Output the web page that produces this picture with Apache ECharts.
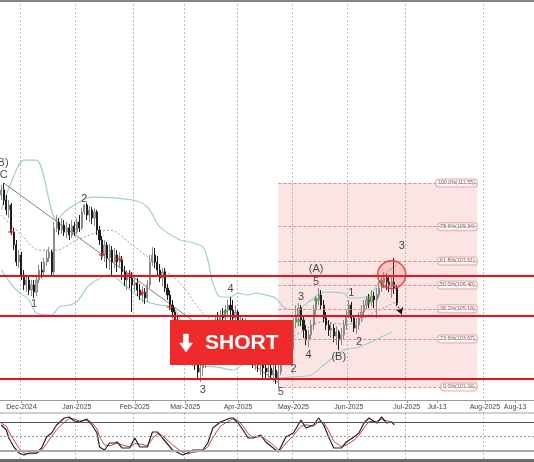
<!DOCTYPE html>
<html><head><meta charset="utf-8">
<script src="https://cdn.jsdelivr.net/npm/echarts@6/dist/echarts.min.js"></script>
<style>html,body{margin:0;padding:0;background:#fff}#c{width:534px;height:462px}</style>
</head><body><div id="c"></div>
<script>
// ---------- categories: trading days (weekdays) then future calendar days ----------
function buildDates(){
  const out=[];
  let d=new Date(Date.UTC(2024,10,20));
  const lastBar=Date.UTC(2025,5,27), end=Date.UTC(2025,7,20);
  while(d.getTime()<=end){
    const w=d.getUTCDay();
    if(d.getTime()>lastBar || (w!==0 && w!==6)) out.push(d.toISOString().slice(0,10));
    d=new Date(d.getTime()+86400000);
  }
  return out;
}
const categories = buildDates();

const tickDates  = ['2024-12-02','2025-01-01','2025-02-03','2025-03-03','2025-04-01','2025-05-01','2025-06-02','2025-07-01','2025-07-13','2025-08-01','2025-08-13'];
const tickLabels = ['Dec-2024','Jan-2025','Feb-2025','Mar-2025','Apr-2025','May-2025','Jun-2025','Jul-2025','Jul-13','Aug-2025','Aug-13'];
const gridDates  = ['2024-12-02','2025-01-01','2025-02-03','2025-03-03','2025-04-01','2025-05-01','2025-06-02','2025-07-01','2025-08-01'];

// ---------- candles [open, close, low, high] ----------
const ohlc = [
[110.94,111.20,110.69,111.45],[111.20,110.69,110.44,111.55],[110.69,110.19,109.93,110.94],[110.19,110.44,109.78,110.69],
[110.44,109.07,108.92,110.54],[109.07,108.42,108.16,109.28],[108.42,107.56,107.36,108.67],[107.56,107.91,107.25,108.16],
[107.91,106.90,106.65,108.06],[106.90,106.40,106.14,107.15],[106.40,106.65,106.04,106.90],[106.65,106.14,105.89,106.85],
[106.14,106.40,105.84,106.65],[106.40,106.04,105.74,106.65],[106.04,106.65,105.84,106.85],[106.65,107.15,106.50,107.41],
[107.15,107.05,106.75,107.56],[107.05,107.56,106.90,107.76],[107.56,107.76,107.36,108.16],[107.76,108.06,107.56,108.32],
[108.06,107.05,106.85,108.16],[107.05,109.28,106.90,109.58],[109.28,109.58,109.07,109.93],[109.58,109.17,108.92,109.78],
[109.17,109.43,108.97,109.78],[109.43,109.07,108.87,109.68],[109.07,109.28,108.77,109.58],[109.28,108.92,108.67,109.48],
[108.92,109.38,108.77,109.68],[109.38,109.07,108.87,109.58],[109.07,109.58,108.97,109.78],[109.58,109.28,109.07,109.93],
[109.28,110.09,109.17,110.29],[110.09,110.44,109.93,110.49],[110.44,109.93,109.68,110.54],[109.93,110.19,109.58,110.39],
[110.19,109.78,109.48,110.34],[109.78,110.09,109.38,110.29],[110.09,109.17,108.92,110.19],[109.17,108.67,108.42,109.38],
[108.67,107.91,107.66,108.87],[107.91,108.42,107.56,108.67],[108.42,107.76,107.25,108.57],[107.76,108.16,107.15,108.47],
[108.16,107.56,106.90,108.37],[107.56,107.91,107.25,108.27],[107.91,107.56,107.05,108.16],[107.56,107.66,107.25,108.06],
[107.66,107.05,106.65,107.86],[107.05,106.65,106.34,107.36],[106.65,106.85,106.14,107.15],[106.85,106.75,106.24,107.15],
[106.75,106.40,105.03,107.05],[106.40,106.50,106.04,106.85],[106.50,106.14,105.84,106.75],[106.14,105.89,105.64,106.45],
[105.89,106.04,105.54,106.34],[106.04,105.74,105.44,106.24],[105.74,106.40,105.54,106.65],[106.40,107.56,106.24,107.91],
[107.56,107.91,107.36,108.32],[107.91,107.56,107.25,108.27],[107.56,107.15,106.85,107.86],[107.15,106.75,106.55,107.46],
[106.75,107.05,106.34,107.25],[107.05,106.24,106.04,107.25],[106.24,105.89,105.64,106.45],[105.89,105.38,105.13,106.14],
[105.38,105.03,104.73,105.64],[105.03,104.63,104.42,105.23],[104.63,104.12,103.82,104.83],[104.12,103.62,103.36,104.37],
[103.62,103.87,103.21,104.22],[103.87,103.36,103.01,104.12],[103.36,103.11,102.71,103.72],[103.11,102.71,102.40,103.41],
[102.71,103.01,102.30,103.31],[103.01,102.35,102.10,103.21],[102.35,102.00,101.70,102.61],[102.00,102.20,101.50,102.51],
[102.20,102.61,101.80,102.86],[102.61,102.86,102.20,103.36],[102.86,103.36,102.61,103.62],[103.36,103.87,103.01,104.12],
[103.87,104.22,103.51,104.63],[104.22,104.63,103.87,104.88],[104.63,104.52,104.12,105.03],[104.52,104.88,104.22,105.13],
[104.88,104.73,104.37,105.23],[104.73,105.13,104.52,105.38],[105.13,105.38,104.73,105.64],[105.38,105.13,104.63,105.79],
[105.13,104.73,104.37,105.64],[104.73,105.03,104.12,105.38],[105.03,104.37,103.97,105.13],[104.37,104.52,104.12,104.88],
[104.52,104.12,103.87,104.73],[104.12,104.37,103.62,104.73],[104.37,103.62,103.11,104.63],[103.62,103.11,102.61,103.87],
[103.11,102.61,102.20,103.36],[102.61,102.86,102.10,103.11],[102.86,102.35,102.00,103.11],[102.35,102.61,101.85,102.86],
[102.61,102.20,101.70,103.01],[102.20,102.00,101.60,102.61],[102.00,102.20,101.70,102.51],[102.20,101.85,101.60,102.51],
[101.85,102.10,101.50,102.40],[102.10,101.70,101.40,102.35],[101.70,102.00,101.24,102.35],[102.00,102.86,101.85,103.11],
[102.86,103.36,102.61,103.72],[103.36,103.62,103.11,104.02],[103.62,103.01,102.71,103.87],[103.01,103.36,102.51,103.62],
[103.36,104.52,103.11,104.73],[104.52,104.88,104.22,105.38],[104.88,105.23,104.63,105.49],[105.23,104.63,104.32,105.38],
[104.63,104.12,103.72,104.88],[104.12,103.62,103.36,104.37],[103.62,103.87,103.26,104.12],[103.87,104.37,103.62,104.63],
[104.37,105.13,104.12,105.38],[105.13,105.64,104.88,105.84],[105.64,105.89,105.38,106.24],[105.89,105.38,105.13,106.14],
[105.38,104.73,104.52,105.64],[104.73,104.37,104.12,105.03],[104.37,104.12,103.82,104.63],[104.12,104.22,103.72,104.52],
[104.22,103.82,103.51,104.42],[103.82,104.02,103.36,104.32],[104.02,103.62,103.11,104.12],[103.62,103.87,103.36,104.22],
[103.87,104.37,103.62,104.63],[104.37,104.88,104.12,105.13],[104.88,105.38,104.73,105.64],[105.38,104.73,104.52,105.54],
[104.73,104.22,104.02,104.88],[104.22,104.37,103.92,104.73],[104.37,104.73,104.12,105.03],[104.73,105.03,104.52,105.38],
[105.03,105.38,104.73,105.64],[105.38,105.64,105.13,105.84],[105.64,105.54,105.23,105.94],[105.54,105.84,105.33,106.14],
[105.84,105.64,105.23,106.04],[105.64,105.89,104.73,106.24],[105.89,106.24,105.74,106.55],[106.24,106.55,106.04,106.85],
[106.55,106.75,106.24,107.05],[106.75,106.55,106.14,106.95],[106.55,106.34,106.04,106.85],[106.34,106.55,105.74,106.85],
[106.55,106.24,105.94,107.76],[106.24,105.49,105.33,106.40]
];

// ---------- Bollinger bands (read at sample bars) [barIndex, price] ----------
const bbUpper = [[0,110.2],[4,111.6],[9,112.71],[14,112.71],[22,109.68],[26,110.19],[36,110.84],[52,110.69],[58,110.34],[63,109.33],[71,108.67],[75,108.57],[80,108.32],[82,107.66],[84,106.50],[87,105.79],[91,105.79],[94,105.99],[98,105.89],[101,105.99],[105,105.89],[109,105.74],[112,105.28],[117,105.13],[123,105.64],[128,106.04],[136,105.99],[138,105.74],[145,105.79],[148,106.14],[152,106.90],[157,107.41]];
const bbMiddle = [[0,109.93],[8,108.92],[15,108.16],[22,108.16],[30,108.67],[43,109.17],[52,108.42],[63,107.31],[71,106.50],[80,104.98],[87,104.37],[95,104.02],[103,103.72],[111,103.51],[119,104.02],[127,104.52],[136,104.42],[142,104.52],[146,104.88],[154,105.38],[157,105.54]];
const bbLower = [[0,107.15],[6,106.14],[11,105.64],[14,104.98],[20,104.88],[23,105.28],[27,105.38],[30,105.54],[35,106.40],[43,106.90],[49,106.40],[56,105.64],[63,105.38],[68,105.28],[73,104.12],[79,102.35],[86,102.25],[92,102.10],[99,102.61],[105,102.20],[111,101.70],[116,101.75],[123,101.85],[128,102.35],[136,103.11],[142,103.26],[155,104.02]];

// ---------- Stochastic [barIndex, value] ----------
const stochK = [[0,74.5],[2,63.8],[3,46.8],[5,27.7],[7,14.9],[9,10.6],[11,14.9],[14,14.9],[16,25.5],[18,48.9],[20,57.5],[22,74.5],[25,89.4],[27,91.5],[29,83.0],[31,80.9],[34,87.2],[36,74.5],[38,57.5],[39,27.7],[41,21.3],[43,36.2],[45,36.2],[46,38.3],[48,25.5],[51,25.5],[53,46.8],[55,27.7],[58,27.7],[60,59.6],[62,59.6],[64,46.8],[68,21.3],[72,10.6],[74,14.9],[76,21.3],[80,21.3],[82,36.2],[84,68.1],[87,80.9],[91,89.4],[92,89.4],[94,78.7],[96,63.8],[98,46.8],[100,46.8],[103,53.2],[105,38.3],[108,25.5],[110,17.0],[111,27.7],[113,48.9],[116,57.5],[119,85.1],[121,68.1],[124,74.5],[126,89.4],[128,74.5],[130,48.9],[132,25.5],[135,25.5],[137,38.3],[140,48.9],[142,57.5],[144,78.7],[146,89.4],[149,78.7],[151,91.5],[153,78.7],[155,80.9],[156,74.5]];
const stochD = [[0,78],[2,72],[3,60],[5,42],[7,25],[9,15],[11,13],[14,14],[16,20],[18,35],[20,50],[22,65],[25,80],[27,88],[29,87],[31,83],[34,84],[36,80],[38,66],[39,50],[41,32],[43,30],[45,34],[46,36],[48,32],[51,28],[53,35],[55,34],[58,30],[60,45],[62,56],[64,52],[68,32],[72,16],[74,13],[76,16],[80,20],[82,28],[84,48],[87,72],[91,85],[92,88],[94,84],[96,72],[98,56],[100,48],[103,50],[105,44],[108,32],[110,22],[111,22],[113,36],[116,52],[119,72],[121,75],[124,72],[126,82],[128,80],[130,62],[132,40],[135,28],[137,32],[140,42],[142,52],[144,68],[146,82],[149,82],[151,86],[153,84],[155,80],[156,78]];
const stochLevels = [80, 50, 20];

// ---------- annotations ----------
const redLevels = [106.86, 104.83, 101.65];
const fibLevels = [111.55, 109.34, 107.61, 106.40, 105.19, 103.67, 101.24];
const fibNames  = ['100.0%(111.55)','78.6%(109.34)','61.8%(107.61)','50.0%(106.40)','38.2%(105.19)','23.6%(103.67)','0.0%(101.24)'];
const fibStart = 110, fibEnd = 189;
const trendLine = [[1,111.55],[110,101.45]];
const projArrow = [[157,105.49],[159,104.90]];
const circleMark = [[155,106.92]];
const waveLabels = [[0,112.56,'(B)'],[1,111.95,'C'],[13,105.44,'1'],[33,110.74,'2'],[80,101.09,'3'],[91,106.19,'4'],[111,100.99,'5'],[116,102.15,'2'],[119,105.79,'3'],[122,102.86,'4'],[125,107.20,'(A)'],[125,106.55,'5'],[134,102.76,'(B)'],[139,105.99,'1'],[142,103.51,'2'],[159,108.37,'3']];
const sellMarks = [[4,109.07],[40,107.91],[47,107.71],[51,106.95],[56,105.99],[67,105.28],[69,104.63]];
const buyMarks  = [[89,104.98],[118,104.52],[125,105.59],[146,105.64],[151,106.50]];

const FONT = '"Liberation Sans", Arial, sans-serif';
const tickIdx = new Set(tickDates.map(d => categories.indexOf(d)));
const gridIdx = new Set(gridDates.map(d => categories.indexOf(d)));
const labelMap = {}; tickDates.forEach((d,i)=>labelMap[d]=tickLabels[i]);

const chart = echarts.init(document.getElementById('c'));
const vSplit = {show:true, interval:(i)=>gridIdx.has(i), lineStyle:{color:'#bdbdbd', type:[2,2], width:1}};

chart.setOption({
  animation:false,
  grid:[{left:0,right:0,top:0,height:400},{left:0,right:0,top:413,height:47}],
  xAxis:[
    {type:'category', gridIndex:0, data:categories, boundaryGap:true,
     axisLine:{show:true, lineStyle:{color:'#9a9a9a'}},
     axisTick:{show:true, interval:(i)=>tickIdx.has(i), alignWithLabel:true, length:3, lineStyle:{color:'#999'}},
     axisLabel:{show:true, interval:(i)=>tickIdx.has(i), formatter:(v)=>labelMap[v]||'', fontSize:7, color:'#444', margin:4, fontFamily:FONT},
     splitLine:vSplit},
    {type:'category', gridIndex:1, data:categories, boundaryGap:true,
     axisLine:{show:false}, axisTick:{show:false}, axisLabel:{show:false}, splitLine:vSplit}
  ],
  yAxis:[
    {type:'value', gridIndex:0, min:100.585, max:120.797, show:false},
    {type:'value', gridIndex:1, min:0, max:100, show:false}
  ],
  series:[
    {type:'scatter', name:'fib', z:1, xAxisIndex:0, yAxisIndex:0, symbolSize:1,
     itemStyle:{color:'rgba(0,0,0,0)'},
     data: fibLevels.map((v,i)=>[fibEnd, v, fibNames[i]]),
     label:{show:true, position:'left', distance:0, formatter:(p)=>p.data[2], fontSize:5.3, color:'#444', fontFamily:FONT,
            backgroundColor:'#fff', borderColor:'#e39a9a', borderWidth:1, borderRadius:3, padding:[1,2,1,2]},
     markArea:{silent:true, itemStyle:{color:'rgba(236,130,130,0.22)'},
       data:[[{coord:[fibStart, fibLevels[6]]},{coord:[fibEnd, fibLevels[0]]}]]},
     markLine:{silent:true, symbol:'none', label:{show:false}, lineStyle:{color:'#e58a8a', type:[3,2], width:1},
       data: fibLevels.map(v=>[{coord:[fibStart,v]},{coord:[fibEnd,v]}])}
    },
    {type:'line', z:2, data:bbUpper, symbol:'none', smooth:0.3, lineStyle:{color:'#a3cfcf', width:1.2}},
    {type:'line', z:2, data:bbLower, symbol:'none', smooth:0.3, lineStyle:{color:'#a3cfcf', width:1.2}},
    {type:'line', z:2, data:bbMiddle, symbol:'none', smooth:0.3, lineStyle:{color:'#9a9a9a', width:1, type:[2,2]}},
    {type:'line', z:2, data:trendLine, symbol:'none', lineStyle:{color:'#808080', width:1}},
    {type:'candlestick', z:3, data:ohlc, barWidth:1.6,
     itemStyle:{color:'#b5b5b5', color0:'#1e1e1e', borderColor:'#8a8a8a', borderColor0:'#1e1e1e', borderWidth:1},
     markLine:{silent:true, symbol:'none', label:{show:false}, lineStyle:{color:'#e8131a', width:2, type:'solid'},
       data: redLevels.map(v=>({yAxis:v}))}
    },
    {type:'line', z:4, data:projArrow, symbol:'none', lineStyle:{color:'#222', width:1, type:[2,2]},
     markPoint:{silent:true, symbol:'arrow', symbolSize:[6,7], symbolRotate:200, label:{show:false}, itemStyle:{color:'#111'},
       data:[{coord:projArrow[1]}]}
    },
    {type:'scatter', z:4, data:sellMarks, symbol:'path://M3,0h2v3h3v2h-3v3h-2v-3h-3v-2h3z', symbolSize:6, itemStyle:{color:'#c8282d'}},
    {type:'scatter', z:4, data:buyMarks, symbol:'path://M4,0L8,4H5V9H3V4H0Z', symbolSize:[6,8], itemStyle:{color:'#2f9a2f'}},
    {type:'scatter', z:5, data:circleMark, symbolSize:28, itemStyle:{color:'rgba(240,90,90,0.28)', borderColor:'#e8262b', borderWidth:1.5}},
    {type:'scatter', z:6, data:waveLabels, symbolSize:1, itemStyle:{color:'rgba(0,0,0,0)'},
     label:{show:true, position:'inside', formatter:(p)=>p.data[2], fontSize:11, color:'#1a1a1a', fontFamily:FONT}},
    {type:'line', xAxisIndex:1, yAxisIndex:1, data:stochD, symbol:'none', lineStyle:{color:'#c94040', width:1},
     markLine:{silent:true, symbol:'none', label:{show:false},
       data:[{yAxis:stochLevels[0], lineStyle:{color:'#555', width:1, type:'solid'}},
             {yAxis:stochLevels[1], lineStyle:{color:'#999', width:1, type:[2,2]}},
             {yAxis:stochLevels[2], lineStyle:{color:'#aaa', width:2, type:'solid'}}]}},
    {type:'line', xAxisIndex:1, yAxisIndex:1, data:stochK, symbol:'none', lineStyle:{color:'#222', width:1.2}}
  ],
  graphic:[
    {type:'rect', shape:{x:0,y:0,width:534,height:2}, style:{fill:'#858585'}, z:50},
    {type:'rect', shape:{x:0,y:412.5,width:534,height:1}, style:{fill:'#a0a0a0'}, z:50},
    {type:'rect', shape:{x:0,y:459,width:534,height:3}, style:{fill:'#6a6a6a'}, z:50},
    {type:'rect', z:100, shape:{x:170,y:320,width:123,height:45}, style:{fill:'#ee2a2a'}},
    {type:'polygon', z:101, shape:{points:[[183.5,334],[188.5,334],[188.5,343],[192.5,343],[186,352],[179.5,343],[183.5,343]]}, style:{fill:'#ffffff', stroke:'#ffffff', lineWidth:0.5}},
    {type:'text', z:102, x:205, y:343, style:{text:'SHORT', fill:'#fff', font:'bold 21px "Liberation Sans", Arial, sans-serif', verticalAlign:'middle', align:'left'}}
  ]
});
</script>
</body></html>
